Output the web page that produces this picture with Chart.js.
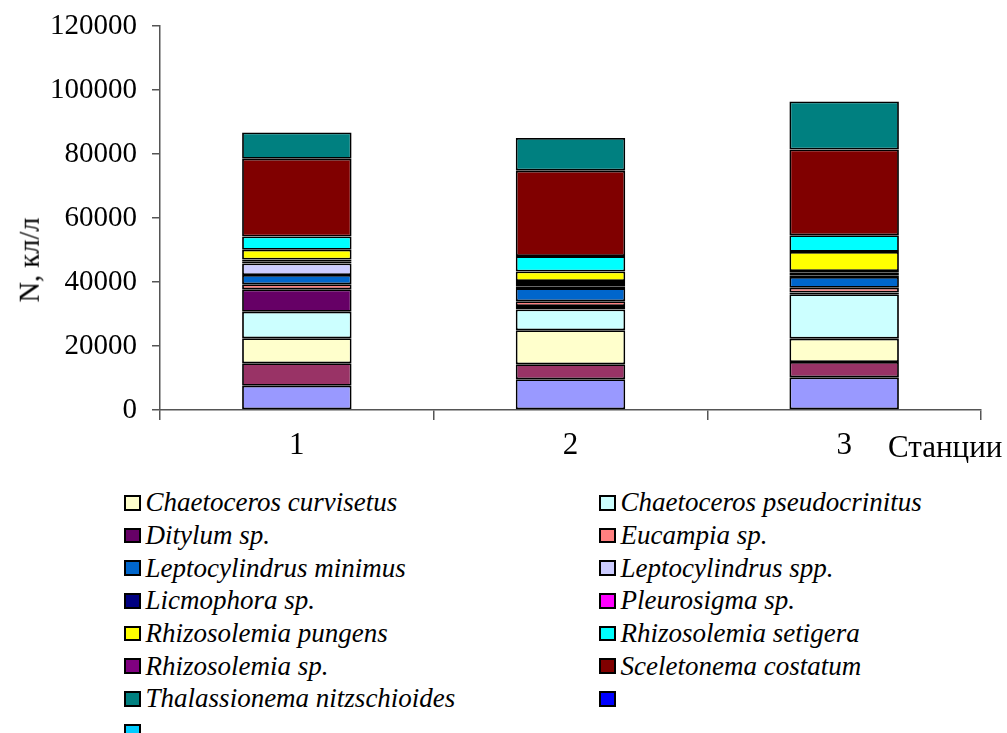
<!DOCTYPE html>
<html>
<head>
<meta charset="utf-8">
<script src="https://cdn.jsdelivr.net/npm/chart.js@4"></script>
<style>
    body {
        margin: 0;
        background: #fff;
        overflow: hidden;
    }

    #wrap {
        position: absolute;
        left: 0;
        top: 0;
        width: 1007px;
        height: 733px;
        font-family: "Liberation Serif", "Times New Roman", serif;
        color: #000;
    }

    #chartBox {
        position: absolute;
        left: 0;
        top: 0;
        width: 1007px;
        height: 480px;
    }

    #yTitle {
        position: absolute;
        left: 30px;
        top: 260px;
        font-size: 28.5px;
        line-height: 1;
        white-space: nowrap;
        transform: translate(-50%, -50%) rotate(-90deg);
    }

    #xTitle {
        position: absolute;
        left: 888px;
        top: 430.7px;
        font-size: 31px;
        line-height: 1;
        white-space: nowrap;
    }

    #legend {
        position: absolute;
        left: 123.6px;
        top: 495px;
        display: grid;
        grid-template-columns: 475px 380px;
        grid-auto-rows: 32.7px;
        font-style: italic;
        font-size: 27px;
        line-height: 1;
    }

    .item {
        display: flex;
        align-items: center;
        height: 15.5px;
        white-space: nowrap;
    }

    .sw {
        box-sizing: border-box;
        width: 17px;
        height: 15.5px;
        border: 2px solid #000;
        margin-right: 5px;
        flex: none;
    }
</style>
</head>
<body>
<div id="wrap">
    <div id="chartBox"><canvas id="chart"></canvas></div>
    <div id="yTitle">N, кл/л</div>
    <div id="xTitle">Станции</div>
    <div id="legend"></div>
</div>
<script>
    // stations on the x axis
    var stations = ['1', '2', '3'];

    // species, in stacking order (bottom first); the first two have no visible legend entry
    var species = [
        '',
        '',
        'Chaetoceros curvisetus',
        'Chaetoceros pseudocrinitus',
        'Ditylum sp.',
        'Eucampia sp.',
        'Leptocylindrus minimus',
        'Leptocylindrus spp.',
        'Licmophora sp.',
        'Pleurosigma sp.',
        'Rhizosolemia pungens',
        'Rhizosolemia setigera',
        'Rhizosolemia sp.',
        'Sceletonema costatum',
        'Thalassionema nitzschioides',
        '',
        ''
    ];

    var colors = [
        '#9999FF', '#993366', '#FFFFCC', '#CCFFFF', '#660066', '#FF8080',
        '#0066CC', '#CCCCFF', '#000080', '#FF00FF', '#FFFF00', '#00FFFF',
        '#800080', '#800000', '#008080', '#0000FF', '#00CCFF'
    ];

    // N, cells per litre, one value per species
    var station1 = [7600, 7000, 7800, 8300, 7000, 1600, 2900, 3600, 700, 500, 3100, 4100, 0, 24300, 8200, 0, 0];
    var station2 = [9600, 4700, 10600, 6500, 1100, 1500, 4100, 600, 1000, 600, 3000, 4800, 0, 26700, 10200, 0, 0];
    var station3 = [10200, 4800, 7300, 13900, 500, 1500, 3400, 500, 800, 500, 6000, 5200, 0, 26800, 15000, 0, 0];

    var yTicks = [0, 20000, 40000, 60000, 80000, 100000, 120000];

    // legend (skips the first two series, whose rows are off the picture)
    var legend = document.getElementById('legend');
    for (var i = 2; i < species.length; i++) {
        var item = document.createElement('div');
        item.className = 'item';
        var sw = document.createElement('span');
        sw.className = 'sw';
        sw.style.background = colors[i];
        var txt = document.createElement('span');
        txt.textContent = species[i];
        item.appendChild(sw);
        item.appendChild(txt);
        legend.appendChild(item);
    }

    function makeChart() {
        var datasets = species.map(function (name, i) {
            return {
                label: name,
                data: [station1[i], station2[i], station3[i]],
                backgroundColor: colors[i],
                borderColor: '#000',
                borderWidth: 1.8,
                borderSkipped: false,
                barPercentage: 0.4,
                categoryPercentage: 1.0
            };
        });

        new Chart(document.getElementById('chart'), {
            type: 'bar',
            data: { labels: stations, datasets: datasets },
            options: {
                responsive: true,
                maintainAspectRatio: false,
                animation: false,
                layout: { padding: { top: 26, right: 26, left: 0, bottom: 0 } },
                plugins: {
                    legend: { display: false },
                    tooltip: { enabled: false }
                },
                scales: {
                    x: {
                        stacked: true,
                        grid: {
                            drawOnChartArea: false,
                            drawTicks: true,
                            tickLength: 10,
                            offset: true,
                            color: '#555',
                            lineWidth: 1.5
                        },
                        border: { color: '#555', width: 1.5 },
                        ticks: {
                            color: '#000',
                            font: { family: 'Liberation Serif', size: 31 },
                            padding: 7.6
                        },
                        afterFit: function (s) { s.height = 70; }
                    },
                    y: {
                        stacked: true,
                        min: 0,
                        max: 120000,
                        afterBuildTicks: function (s) {
                            s.ticks = yTicks.map(function (v) { return { value: v }; });
                        },
                        ticks: {
                            color: '#000',
                            font: { family: 'Liberation Serif', size: 29, lineHeight: 0.5 },
                            padding: 15,
                            callback: function (v) { return String(v); }
                        },
                        grid: {
                            drawOnChartArea: false,
                            tickLength: 8,
                            color: '#555',
                            lineWidth: 1.5
                        },
                        border: { color: '#555', width: 1.5 },
                        afterFit: function (s) { s.width = 160; }
                    }
                }
            }
        });
    }

    document.fonts.load('29px "Liberation Serif"').then(makeChart, makeChart);
</script>
</body>
</html>
